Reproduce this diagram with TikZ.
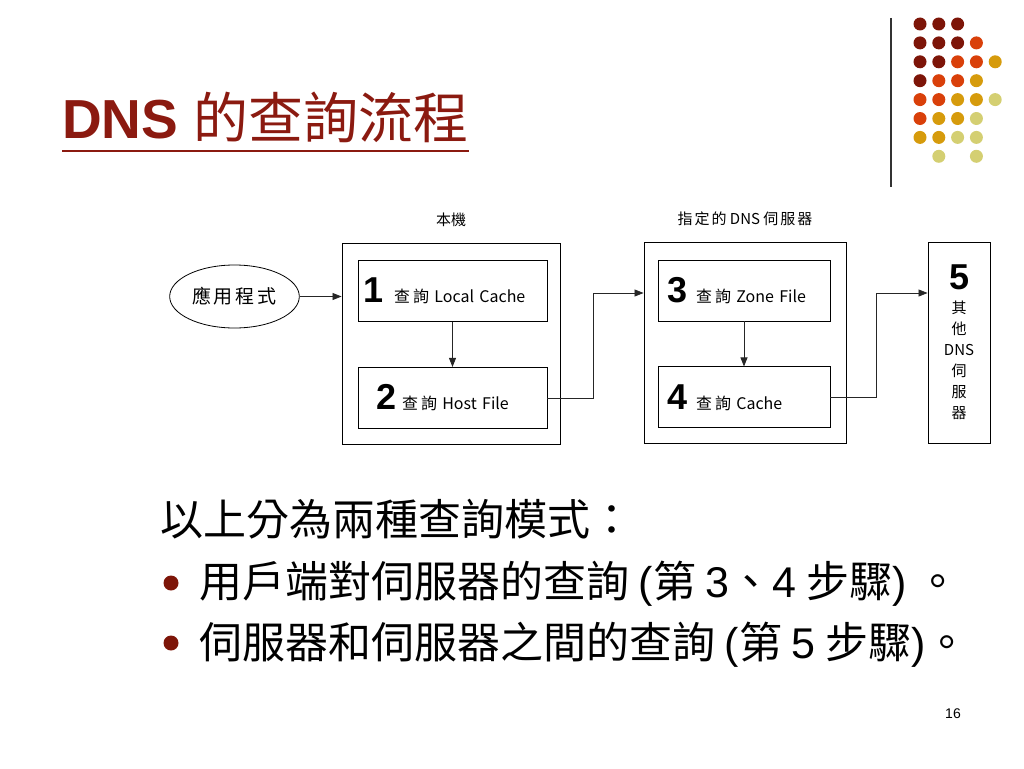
\documentclass[tikz,border=0pt]{standalone}
\usepackage{fontspec}
\setmainfont{Liberation Sans}
\newfontfamily\cjk{Noto Sans CJK TC}
\usetikzlibrary{positioning,shapes.geometric,arrows.meta}

\definecolor{titlered}{HTML}{8B1A10}
\definecolor{dotA}{HTML}{7D1508}
\definecolor{dotB}{HTML}{D9400A}
\definecolor{dotC}{HTML}{D69B0C}
\definecolor{dotD}{HTML}{D4CF72}

\newcommand\stepno[1]{{\rmfamily\fontsize{36}{36}\selectfont\bfseries #1}}
\newcommand\qry{查\hspace{3pt}詢}

\tikzset{
  frame/.style={draw, line width=0.9pt, minimum width=#1, minimum height=201pt, inner sep=0pt},
  qbox/.style={draw, line width=0.9pt, minimum height=61pt, inner ysep=0pt, align=left,
    font=\cjk\fontsize{16}{16}\selectfont},
  arr/.style={draw=black!85, line width=0.8pt, -{Triangle[length=9pt,width=7pt]}},
  dot/.style={circle, fill=#1, inner sep=0pt, minimum size=13pt},
  body/.style={anchor=base west, inner sep=0pt, font=\cjk\fontsize{43}{43}\selectfont},
}

\begin{document}
\begin{tikzpicture}[x=1pt, y=-1pt]
\useasboundingbox (0,0) rectangle (1024,768);

% title
\node[anchor=base west, inner sep=0pt, text=titlered, font=\fontsize{55}{55}\selectfont]
  (title) at (62,138) {\bfseries DNS {\cjk\mdseries 的查詢流程}};
\draw[titlered, line width=2.5pt] ([yshift=-13pt]title.base west) -- ([yshift=-13pt]title.base east);

% corner dots
\draw[black!80, line width=1.5pt] (891,18) -- (891,187);
\foreach \c/\r/\col in {0/0/dotA,1/0/dotA,2/0/dotA,
    0/1/dotA,1/1/dotA,2/1/dotA,3/1/dotB,
    0/2/dotA,1/2/dotA,2/2/dotB,3/2/dotB,4/2/dotC,
    0/3/dotA,1/3/dotB,2/3/dotB,3/3/dotC,
    0/4/dotB,1/4/dotB,2/4/dotC,3/4/dotC,4/4/dotD,
    0/5/dotB,1/5/dotC,2/5/dotC,3/5/dotD,
    0/6/dotC,1/6/dotC,2/6/dotD,3/6/dotD,
    1/7/dotD,3/7/dotD}
  \node[dot=\col] (d-\c-\r) at (920+18.8*\c, 24+18.9*\r) {};

% local host
\node[frame=218pt] (local) at (451,343.5) {};
\node[above=12pt of local, font=\cjk\fontsize{15}{15}\selectfont] (local-l) {本機};
\node[qbox, inner xsep=5pt, text width=179pt] (q1) at (452.5,291)
  {\stepno{1}\hspace{11pt}\qry\ Local Cache};
\node[qbox, inner xsep=18pt, text width=153pt, below=45pt of q1] (q2)
  {\stepno{2}\hspace{6pt}\qry\ Host File};
\draw[arr] (q1) -- (q2);

% application
\node[ellipse, draw, line width=0.8pt, minimum width=125pt, minimum height=63pt,
  font=\cjk\fontsize{19}{19}\selectfont] (app) at (234.5,296.5) {應\hspace{3pt}用\hspace{3pt}程\hspace{3pt}式};
\draw[arr] (app.east) -- (app.east -| local.west);

% assigned DNS server
\node[frame=202pt] (dns) at (745,342.5) {};
\node[above=12pt of dns, font=\cjk\fontsize{15}{15}\selectfont] (dns-l)
  {指\hspace{2pt}定\hspace{2pt}的 DNS 伺\hspace{2pt}服\hspace{2pt}器};
\node[qbox, inner xsep=9pt, text width=154pt] (q3) at (744,290.5)
  {\stepno{3}\hspace{9pt}\qry\ Zone File};
\node[qbox, inner xsep=9pt, text width=154pt, below=45pt of q3] (q4)
  {\stepno{4}\hspace{9pt}\qry\ Cache};
\draw[arr] (q3) -- (q4);

\coordinate (j1) at (593,293);
\draw[arr] (q2.east) -| (j1) -- (j1 -| dns.west);

% other DNS servers
\node[frame=62pt, align=center, font=\cjk\fontsize{15}{21}\selectfont] (other) at (959,342.5)
  {\stepno{5}\\[3pt]其\\他\\DNS\\伺\\服\\器};
\coordinate (j2) at (876,293);
\draw[arr] (q4.east) -| (j2) -- (j2 -| other.west);

% text
\node[body] (t0) at (160,535) {以上分為兩種查詢模式：};
\node[dot=dotA, minimum size=15pt] (b1) at (171,583) {};
\node[body] (t1) at (199,597)
  {用戶端對伺服器的查詢 {\rmfamily(}第 {\rmfamily 3}、{\rmfamily 4} 步驟{\rmfamily)} 。};
\node[dot=dotA, minimum size=15pt] (b2) at (171,643) {};
\node[body] (t2) at (199,658)
  {伺服器和伺服器之間的查詢 {\rmfamily(}第 {\rmfamily 5} 步驟{\rmfamily)}。};

\node[font=\fontsize{14}{14}\selectfont] (page) at (953,714) {16};
\end{tikzpicture}
\end{document}
